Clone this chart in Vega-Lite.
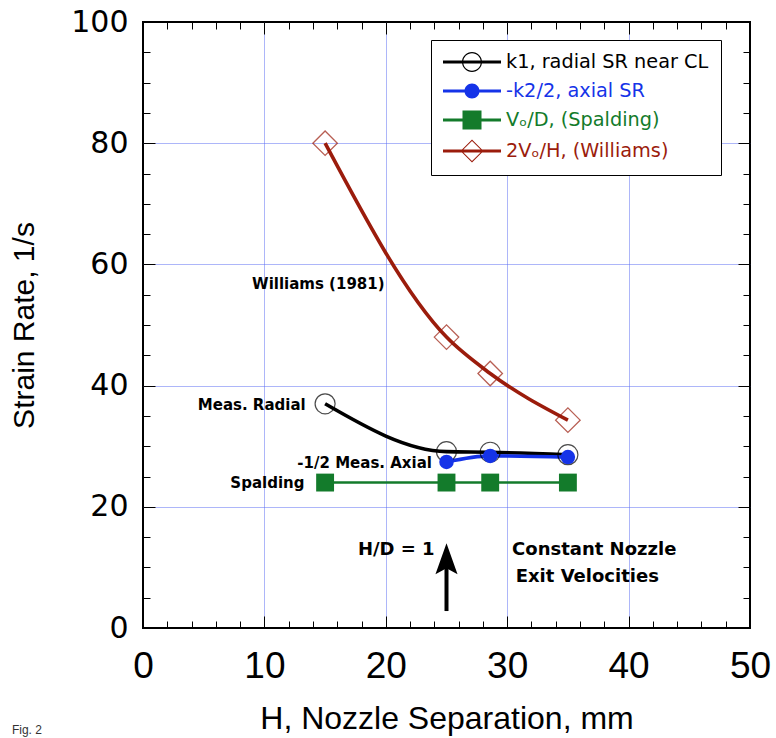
{
  "$schema": "https://vega.github.io/schema/vega-lite/v6.json",
  "width": 607,
  "height": 606,
  "autosize": "none",
  "padding": {"left": 143, "top": 22, "right": 26, "bottom": 110},
  "background": "white",
  "config": {
    "view": {"stroke": "black", "strokeWidth": 2},
    "font": "DejaVu Sans"
  },
  "datasets": {
    "curves": [
      {"series": "2Vₒ/H, (Williams)", "h": 15, "rate": 80},
      {"series": "2Vₒ/H, (Williams)", "h": 25, "rate": 48},
      {"series": "2Vₒ/H, (Williams)", "h": 28.6, "rate": 42},
      {"series": "2Vₒ/H, (Williams)", "h": 35, "rate": 34.3},
      {"series": "k1, radial SR near CL", "h": 15, "rate": 37},
      {"series": "k1, radial SR near CL", "h": 25, "rate": 29.1},
      {"series": "k1, radial SR near CL", "h": 28.6, "rate": 29},
      {"series": "k1, radial SR near CL", "h": 35, "rate": 28.6},
      {"series": "-k2/2, axial SR", "h": 25, "rate": 27.4},
      {"series": "-k2/2, axial SR", "h": 28.6, "rate": 28.4},
      {"series": "-k2/2, axial SR", "h": 35, "rate": 28.2},
      {"series": "Vₒ/D, (Spalding)", "h": 15, "rate": 24},
      {"series": "Vₒ/D, (Spalding)", "h": 25, "rate": 24},
      {"series": "Vₒ/D, (Spalding)", "h": 28.6, "rate": 24},
      {"series": "Vₒ/D, (Spalding)", "h": 35, "rate": 24}
    ],
    "notesRight": [
      {"label": "Williams (1981)", "h": 19.9, "rate": 56.8},
      {"label": "Meas. Radial", "h": 13.4, "rate": 36.8},
      {"label": "-1/2 Meas. Axial", "h": 23.8, "rate": 27.3},
      {"label": "Spalding", "h": 13.3, "rate": 23.9}
    ],
    "notesLeft": [
      {"label": "H/D = 1", "h": 17.7, "rate": 12.9},
      {"label": "Constant Nozzle", "h": 30.4, "rate": 12.9},
      {"label": "Exit Velocities", "h": 30.7, "rate": 8.4}
    ],
    "arrow": [{"h": 25, "rate": 2.8, "rate_end": 10.8}],
    "fig": [{"label": "Fig. 2", "h": -10.8, "rate": -16.8}]
  },
  "resolve": {"axis": {"x": "independent", "y": "independent"}},
  "layer": [
    {
      "data": {"name": "curves"},
      "transform": [{"filter": "datum.series == 'Vₒ/D, (Spalding)'"}],
      "mark": {"type": "line", "color": "#137b2b", "strokeWidth": 2.6},
      "encoding": {
        "x": {"field": "h", "type": "quantitative", "scale": {"domain": [0, 50], "nice": false, "zero": false},
          "axis": {"orient": "bottom", "values": [10, 20, 30, 40], "grid": true, "gridColor": "#5b6cf2", "gridWidth": 1, "gridDash": [1, 1], "ticks": false, "labels": false, "domain": false, "title": null}},
        "y": {"field": "rate", "type": "quantitative", "scale": {"domain": [0, 100], "nice": false, "zero": false},
          "axis": {"orient": "left", "values": [20, 40, 60, 80], "grid": true, "gridColor": "#5b6cf2", "gridWidth": 1, "gridDash": [1, 1], "ticks": false, "labels": false, "domain": false, "title": null}}
      }
    },
    {
      "data": {"name": "curves"},
      "transform": [{"filter": "datum.series != 'Vₒ/D, (Spalding)'"}],
      "mark": {"type": "line", "interpolate": "monotone", "strokeWidth": 3.6},
      "encoding": {
        "x": {"field": "h", "type": "quantitative",
          "axis": {"orient": "bottom", "values": [0, 10, 20, 30, 40, 50], "ticks": false, "domain": false, "grid": false,
            "labelFont": "Liberation Sans", "labelFontSize": 37, "labelColor": "black", "labelBaseline": "alphabetic", "labelPadding": 49,
            "labelFlush": false, "labelOverlap": false, "labelBound": false,
            "title": "H, Nozzle Separation, mm", "titleFont": "Liberation Sans", "titleFontSize": 32, "titleFontWeight": "normal",
            "titleColor": "black", "titleBaseline": "alphabetic", "titleY": 100, "titleX": 303.5, "titleAlign": "center"}},
        "y": {"field": "rate", "type": "quantitative",
          "axis": {"orient": "left", "values": [0, 20, 40, 60, 80, 100], "ticks": false, "domain": false, "grid": false,
            "labelFont": "DejaVu Sans", "labelFontSize": 30, "labelColor": "black", "labelPadding": 15, "labelBaseline": "middle",
            "labelFlush": false, "labelOverlap": false, "labelBound": false,
            "title": "Strain Rate, 1/s", "titleFont": "Liberation Sans", "titleFontSize": 30, "titleFontWeight": "normal",
            "titleColor": "black", "titleX": -110, "titleY": 303, "titleAngle": -90, "titleBaseline": "alphabetic", "titleAlign": "center"}},
        "color": {"field": "series", "type": "nominal", "legend": null,
          "scale": {"domain": ["2Vₒ/H, (Williams)", "k1, radial SR near CL", "-k2/2, axial SR"], "range": ["#9b1c0c", "#000000", "#1533e8"]}}
      }
    },
    {
      "data": {"name": "curves"},
      "transform": [{"filter": "datum.series == '2Vₒ/H, (Williams)'"}],
      "mark": {"type": "point", "shape": "diamond", "filled": false, "size": 600, "stroke": "#9b1c0c", "strokeWidth": 1.3},
      "encoding": {
        "x": {"field": "h", "type": "quantitative",
          "axis": {"orient": "bottom", "values": [0,2,4,6,8,10,12,14,16,18,20,22,24,26,28,30,32,34,36,38,40,42,44,46,48,50], "tickSize": -7, "tickColor": "black", "tickWidth": 1, "labels": false, "domain": false, "grid": false, "title": null}},
        "y": {"field": "rate", "type": "quantitative",
          "axis": {"orient": "left", "values": [0,5,10,15,20,25,30,35,40,45,50,55,60,65,70,75,80,85,90,95,100], "tickSize": -7, "tickColor": "black", "tickWidth": 1, "labels": false, "domain": false, "grid": false, "title": null}}
      }
    },
    {
      "data": {"name": "curves"},
      "transform": [{"filter": "datum.series == 'k1, radial SR near CL'"}],
      "mark": {"type": "point", "shape": "circle", "filled": false, "size": 400, "stroke": "black", "strokeWidth": 1.2},
      "encoding": {
        "x": {"field": "h", "type": "quantitative",
          "axis": {"orient": "bottom", "values": [0, 10, 20, 30, 40, 50], "tickSize": -12, "tickColor": "black", "tickWidth": 1, "labels": false, "domain": false, "grid": false, "title": null}},
        "y": {"field": "rate", "type": "quantitative",
          "axis": {"orient": "left", "values": [0, 20, 40, 60, 80, 100], "tickSize": -12, "tickColor": "black", "tickWidth": 1, "labels": false, "domain": false, "grid": false, "title": null}}
      }
    },
    {
      "data": {"name": "curves"},
      "transform": [{"filter": "datum.series == '-k2/2, axial SR'"}],
      "mark": {"type": "point", "shape": "circle", "filled": true, "size": 210, "color": "#1533e8", "opacity": 1},
      "encoding": {
        "x": {"field": "h", "type": "quantitative",
          "axis": {"orient": "top", "values": [0,2,4,6,8,10,12,14,16,18,20,22,24,26,28,30,32,34,36,38,40,42,44,46,48,50], "tickSize": -7, "tickColor": "black", "tickWidth": 1, "labels": false, "domain": false, "grid": false, "title": null}},
        "y": {"field": "rate", "type": "quantitative",
          "axis": {"orient": "right", "values": [0,5,10,15,20,25,30,35,40,45,50,55,60,65,70,75,80,85,90,95,100], "tickSize": -7, "tickColor": "black", "tickWidth": 1, "labels": false, "domain": false, "grid": false, "title": null}}
      }
    },
    {
      "data": {"name": "curves"},
      "transform": [{"filter": "datum.series == 'Vₒ/D, (Spalding)'"}],
      "mark": {"type": "point", "shape": "square", "filled": true, "size": 320, "color": "#137b2b", "opacity": 1},
      "encoding": {
        "x": {"field": "h", "type": "quantitative",
          "axis": {"orient": "top", "values": [0, 10, 20, 30, 40, 50], "tickSize": -12, "tickColor": "black", "tickWidth": 1, "labels": false, "domain": false, "grid": false, "title": null}},
        "y": {"field": "rate", "type": "quantitative",
          "axis": {"orient": "right", "values": [0, 20, 40, 60, 80, 100], "tickSize": -12, "tickColor": "black", "tickWidth": 1, "labels": false, "domain": false, "grid": false, "title": null}}
      }
    },
    {
      "data": {"name": "notesRight"},
      "mark": {"type": "text", "align": "right", "baseline": "middle", "font": "DejaVu Sans", "fontSize": 15, "fontWeight": "bold", "color": "black"},
      "encoding": {
        "x": {"field": "h", "type": "quantitative", "axis": null},
        "y": {"field": "rate", "type": "quantitative", "axis": null},
        "text": {"field": "label"}
      }
    },
    {
      "data": {"name": "notesLeft"},
      "mark": {"type": "text", "align": "left", "baseline": "middle", "font": "DejaVu Sans", "fontSize": 18, "fontWeight": "bold", "color": "black"},
      "encoding": {
        "x": {"field": "h", "type": "quantitative", "axis": null},
        "y": {"field": "rate", "type": "quantitative", "axis": null},
        "text": {"field": "label"}
      }
    },
    {
      "data": {"name": "arrow"},
      "mark": {"type": "rule", "color": "black", "strokeWidth": 4},
      "encoding": {
        "x": {"field": "h", "type": "quantitative", "axis": null},
        "y": {"field": "rate", "type": "quantitative", "axis": null},
        "y2": {"field": "rate_end"}
      }
    },
    {
      "data": {"name": "arrow"},
      "mark": {"type": "point", "shape": "M0,-1L0.57,0.6L0,0.3L-0.57,0.6Z", "filled": true, "color": "black", "opacity": 1, "size": 1500},
      "encoding": {
        "x": {"field": "h", "type": "quantitative", "axis": null},
        "y": {"field": "rate_end", "type": "quantitative", "axis": null}
      }
    },
    {
      "data": {"name": "fig"},
      "mark": {"type": "text", "align": "left", "baseline": "middle", "font": "Liberation Sans", "fontSize": 12, "color": "#333333"},
      "encoding": {
        "x": {"field": "h", "type": "quantitative", "axis": null},
        "y": {"field": "rate", "type": "quantitative", "axis": null},
        "text": {"field": "label"}
      }
    },
    {
      "data": {"values": []},
      "mark": {"type": "point", "filled": true, "opacity": 1},
      "encoding": {
        "x": {"field": "h", "type": "quantitative", "axis": null},
        "y": {"field": "rate", "type": "quantitative", "axis": null},
        "fill": {"field": "series", "type": "nominal",
          "scale": {"domain": ["k1, radial SR near CL", "-k2/2, axial SR", "Vₒ/D, (Spalding)", "2Vₒ/H, (Williams)"], "range": ["#000000", "#1533e8", "#137b2b", "#9b1c0c"]},
          "legend": {"title": null, "orient": "none", "legendX": 288, "legendY": 18, "direction": "vertical", "symbolSize": 400, "symbolStrokeWidth": 0, "symbolOffset": 19,
            "labelFont": "DejaVu Sans", "labelFontSize": 19.3, "labelLimit": 0, "labelOffset": 24,
            "labelColor": {"expr": "datum.index == 0 ? 'black' : datum.index == 1 ? '#1533e8' : datum.index == 2 ? '#137b2b' : '#9b1c0c'"},
            "padding": 12, "rowPadding": 8, "strokeColor": "black", "fillColor": "white", "cornerRadius": 0}},
        "shape": {"field": "series", "type": "nominal",
          "scale": {"domain": ["k1, radial SR near CL", "-k2/2, axial SR", "Vₒ/D, (Spalding)", "2Vₒ/H, (Williams)"],
            "range": [
              "M-2.9,-0.15H2.9V0.15H-2.9Z M-1,0A1,1 0 1,1 1,0A1,1 0 1,1 -1,0Z M-0.88,0A0.88,0.88 0 1,0 0.88,0A0.88,0.88 0 1,0 -0.88,0Z",
              "M-2.9,-0.15H2.9V0.15H-2.9Z M-0.75,0A0.75,0.75 0 1,1 0.75,0A0.75,0.75 0 1,1 -0.75,0Z",
              "M-2.9,-0.15H2.9V0.15H-2.9Z M-0.95,-0.95H0.95V0.95H-0.95Z",
              "M-2.9,-0.15H2.9V0.15H-2.9Z M0,-1.15L1.15,0L0,1.15L-1.15,0Z M0,-1.01L-1.01,0L0,1.01L1.01,0Z"
            ]},
          "legend": {"title": null, "orient": "none", "legendX": 288, "legendY": 18, "direction": "vertical", "symbolSize": 400, "symbolStrokeWidth": 0, "symbolOffset": 19,
            "labelFont": "DejaVu Sans", "labelFontSize": 19.3, "labelLimit": 0, "labelOffset": 24,
            "labelColor": {"expr": "datum.index == 0 ? 'black' : datum.index == 1 ? '#1533e8' : datum.index == 2 ? '#137b2b' : '#9b1c0c'"},
            "padding": 12, "rowPadding": 8, "strokeColor": "black", "fillColor": "white", "cornerRadius": 0}}
      }
    }
  ]
}
